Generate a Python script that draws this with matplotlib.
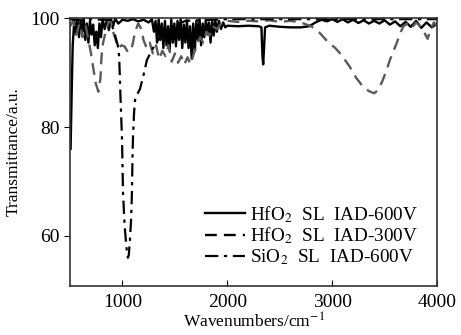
import matplotlib
matplotlib.use("Agg")
from matplotlib import pyplot as plt

plt.rcParams['font.family'] = ['Liberation Serif', 'DejaVu Serif']
plt.rcParams['mathtext.fontset'] = 'stix'

# HfO2 SL IAD-600V (solid)
wn_600 = [505, 515, 525, 540, 555, 570, 585, 600, 615, 630, 645, 660, 675, 690, 705,
          720, 735, 750, 765, 780, 795, 810, 830, 850, 870, 890, 910, 930, 960, 1000,
          1050, 1100, 1150, 1200, 1250, 1280, 1300, 1315, 1330, 1345, 1360, 1375, 1390,
          1405, 1420, 1435, 1450, 1465, 1480, 1495, 1510, 1525, 1540, 1555, 1570, 1585,
          1600, 1615, 1630, 1645, 1660, 1675, 1690, 1705, 1720, 1735, 1750, 1765, 1780,
          1795, 1810, 1825, 1840, 1855, 1870, 1885, 1900, 1920, 1940, 1960, 1980, 2000,
          2100, 2200, 2300, 2325, 2335, 2342, 2350, 2360, 2400, 2500, 2600, 2700, 2780,
          2850, 2900, 2950, 3000, 3050, 3100, 3150, 3200, 3250, 3300, 3350, 3400, 3450,
          3500, 3550, 3600, 3650, 3700, 3750, 3800, 3850, 3900, 3950, 4000]
t_600 = [76, 86, 95, 99.5, 97, 99.8, 96.5, 99.5, 97.5, 100, 96, 99, 95.5, 99.5, 97,
         98.8, 95, 97.5, 94.5, 99, 96.5, 99.8, 98, 99.6, 97.8, 99.8, 98.5, 99.9, 99, 99.7,
         99.5, 99.8, 99.4, 99.7, 99.2, 99.8, 97.5, 99.5, 95.5, 99.8, 96, 99, 94.5,
         99.5, 95, 98.5, 94, 99.8, 95.5, 99, 94.8, 99.5, 96, 99.8, 94.5, 98.8,
         95.5, 99.6, 94.5, 98.5, 92.5, 99, 94, 99.5, 96, 99.8, 95, 99, 96.5,
         99.6, 97, 99.2, 95.5, 99.5, 96.8, 99.7, 97.5, 99.5, 98, 99.2, 98.3, 98.6,
         98.5, 98.6, 98.5, 98.3, 93, 91.5, 94.5, 98.3, 98.6, 98.4, 98.3, 98.3, 98.5,
         99.3, 99.7, 99.4, 99.8, 99.3, 99.8, 99.2, 99.7, 99.1, 99.6, 99.0, 99.5, 99.0,
         99.6, 98.8, 99.4, 98.5, 99.3, 98.4, 99.5, 98.2, 99.2, 98.3, 99.0]

# HfO2 SL IAD-300V (dashed)
wn_300 = [500, 530, 560, 590, 620, 650, 680, 700, 720, 745, 770, 790, 800, 815, 840,
          870, 890, 910, 935, 960, 990, 1020, 1050, 1080, 1100, 1120, 1150, 1180, 1200,
          1230, 1260, 1290, 1320, 1350, 1380, 1410, 1440, 1470, 1500, 1530, 1560, 1590,
          1620, 1650, 1680, 1710, 1740, 1770, 1800, 1830, 1860, 1900, 1950, 2000, 2100,
          2200, 2300, 2400, 2500, 2600, 2700, 2800, 2880, 2950, 3030, 3090, 3170, 3230,
          3290, 3350, 3400, 3440, 3480, 3520, 3550, 3590, 3615, 3650, 3680, 3720, 3760,
          3800, 3840, 3880, 3910, 3940, 3970, 4000]
t_300 = [98.5, 99.5, 97, 99, 96.5, 98.5, 95.5, 93.5, 91, 88, 86.5, 89, 93, 95.5, 97.5,
         99.5, 99.2, 97.5, 96, 94.5, 95, 94.8, 93.8, 94, 95.5, 97.5, 99, 98, 96,
         94.5, 95.5, 93.5, 95, 92.5, 94, 93, 95, 92, 93.5, 91.8, 93, 91.5,
         92.8, 91.5, 93.5, 95, 96.5, 95.5, 97.5, 96.8, 98.5, 98, 99.2, 99.5, 99.3,
         99.5, 99.4, 99.6, 99.3, 99.5, 99.2, 98.5, 97.3, 95.8, 94.5, 93.2, 91, 89,
         87.5, 86.6, 86.2, 86.8, 88.5, 90.5, 92.3, 94.2, 95.4, 97.3, 98.5, 99, 98.2,
         99.2, 98.5, 97.3, 96.2, 98, 99.2, 98.5]

# SiO2 SL IAD-600V (dash-dot)
wn_si = [500, 600, 700, 800, 880, 920, 955, 968, 980, 995, 1005, 1020, 1035, 1045,
         1052, 1060, 1070, 1082, 1090, 1095, 1100, 1110, 1120, 1140, 1167, 1200, 1233,
         1280, 1330, 1400, 1500, 1600, 2000, 3000, 4000]
t_si = [99.8, 99.6, 99.8, 99.7, 99.7, 97.5, 95, 93, 86, 78, 68, 62, 58.5, 56.5,
        56, 56.5, 59, 63, 68, 74, 78, 82.5, 85, 86, 87, 89.5, 92.3,
        94.1, 95.8, 97.2, 98.6, 99.5, 99.8, 99.8, 99.8]

labels = [r'HfO$_2$  SL  IAD-600V', r'HfO$_2$  SL  IAD-300V', r'SiO$_2$  SL  IAD-600V']

fig = plt.figure(figsize=(4.61, 3.35), dpi=100)
ax = fig.add_axes([0.152, 0.146, 0.796, 0.8])

ax.plot(wn_600, t_600, color='black', lw=1.7, label=labels[0])
ax.plot(wn_300, t_300, color='#5a5a5a', lw=1.7, dashes=[5, 3], label=labels[1])
ax.plot(wn_si, t_si, color='black', lw=1.6, dashes=[6, 2.5, 1.5, 2.5], label=labels[2])

ax.set_xlim(500, 4000)
ax.set_ylim(50.8, 100)
ax.set_xticks([1000, 2000, 3000, 4000])
ax.set_yticks([60, 80, 100])
ax.tick_params(axis='x', direction='in', length=4, labelsize=14, pad=6)
ax.tick_params(axis='y', direction='out', length=4, labelsize=14)
for s in ax.spines.values():
    s.set_color('#333333')
    s.set_linewidth(1.2)

ax.set_xlabel('Wavenumbers/cm$^{-1}$', fontsize=12.5, labelpad=1)
ax.set_ylabel('Transmittance/a.u.', fontsize=12.5, labelpad=6)

leg = ax.legend(loc='lower right', frameon=False, fontsize=13.8, handlelength=2.1,
                handletextpad=0.25, labelspacing=0.05, borderaxespad=0.6)
for h in leg.get_lines():
    h.set_color('black')

fig.savefig('out.png', dpi=100)
